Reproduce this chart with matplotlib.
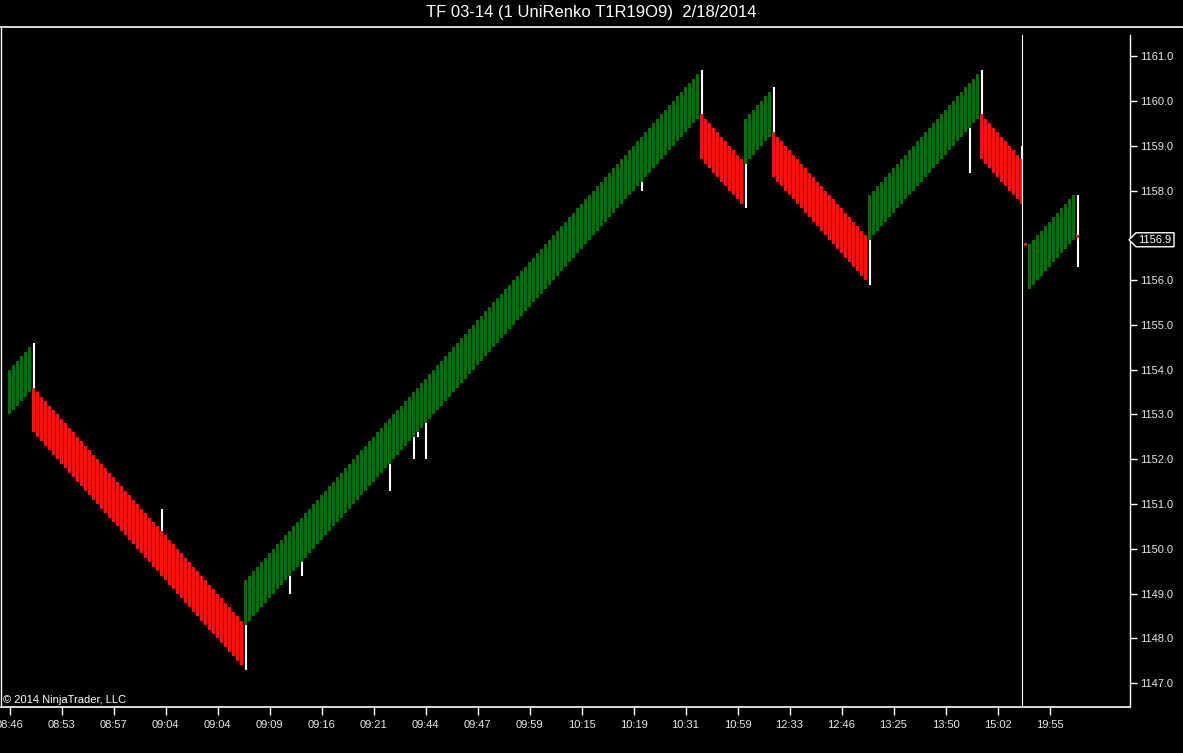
import numpy as np
import matplotlib
matplotlib.use("Agg")
import matplotlib.pyplot as plt
from matplotlib.patches import Polygon
from matplotlib.lines import Line2D
from matplotlib.transforms import IdentityTransform

plt.rcParams['font.family'] = ['Liberation Sans', 'DejaVu Sans']

title = "TF 03-14 (1 UniRenko T1R19O9)  2/18/2014"
copyright_text = "\u00a9 2014 NinjaTrader, LLC"

# renko brick closes per leg
green1_close = [1154.0, 1154.1, 1154.2, 1154.3, 1154.4, 1154.5]
red1_close = [1152.6, 1152.5, 1152.4, 1152.3, 1152.2, 1152.1, 1152.0, 1151.9, 1151.8, 1151.7,
              1151.6, 1151.5, 1151.4, 1151.3, 1151.2, 1151.1, 1151.0, 1150.9, 1150.8, 1150.7,
              1150.6, 1150.5, 1150.4, 1150.3, 1150.2, 1150.1, 1150.0, 1149.9, 1149.8, 1149.7,
              1149.6, 1149.5, 1149.4, 1149.3, 1149.2, 1149.1, 1149.0, 1148.9, 1148.8, 1148.7,
              1148.6, 1148.5, 1148.4, 1148.3, 1148.2, 1148.1, 1148.0, 1147.9, 1147.8, 1147.7,
              1147.6, 1147.5, 1147.4]
green2_close = [1149.3, 1149.4, 1149.5, 1149.6, 1149.7, 1149.8, 1149.9, 1150.0, 1150.1, 1150.2,
                1150.3, 1150.4, 1150.5, 1150.6, 1150.7, 1150.8, 1150.9, 1151.0, 1151.1, 1151.2,
                1151.3, 1151.4, 1151.5, 1151.6, 1151.7, 1151.8, 1151.9, 1152.0, 1152.1, 1152.2,
                1152.3, 1152.4, 1152.5, 1152.6, 1152.7, 1152.8, 1152.9, 1153.0, 1153.1, 1153.2,
                1153.3, 1153.4, 1153.5, 1153.6, 1153.7, 1153.8, 1153.9, 1154.0, 1154.1, 1154.2,
                1154.3, 1154.4, 1154.5, 1154.6, 1154.7, 1154.8, 1154.9, 1155.0, 1155.1, 1155.2,
                1155.3, 1155.4, 1155.5, 1155.6, 1155.7, 1155.8, 1155.9, 1156.0, 1156.1, 1156.2,
                1156.3, 1156.4, 1156.5, 1156.6, 1156.7, 1156.8, 1156.9, 1157.0, 1157.1, 1157.2,
                1157.3, 1157.4, 1157.5, 1157.6, 1157.7, 1157.8, 1157.9, 1158.0, 1158.1, 1158.2,
                1158.3, 1158.4, 1158.5, 1158.6, 1158.7, 1158.8, 1158.9, 1159.0, 1159.1, 1159.2,
                1159.3, 1159.4, 1159.5, 1159.6, 1159.7, 1159.8, 1159.9, 1160.0, 1160.1, 1160.2,
                1160.3, 1160.4, 1160.5, 1160.6]
red2_close = [1158.7, 1158.6, 1158.5, 1158.4, 1158.3, 1158.2, 1158.1, 1158.0, 1157.9, 1157.8, 1157.7]
green3_close = [1159.6, 1159.7, 1159.8, 1159.9, 1160.0, 1160.1, 1160.2]
red3_close = [1158.3, 1158.2, 1158.1, 1158.0, 1157.9, 1157.8, 1157.7, 1157.6, 1157.5, 1157.4,
              1157.3, 1157.2, 1157.1, 1157.0, 1156.9, 1156.8, 1156.7, 1156.6, 1156.5, 1156.4,
              1156.3, 1156.2, 1156.1, 1156.0]
green4_close = [1157.9, 1158.0, 1158.1, 1158.2, 1158.3, 1158.4, 1158.5, 1158.6, 1158.7, 1158.8,
                1158.9, 1159.0, 1159.1, 1159.2, 1159.3, 1159.4, 1159.5, 1159.6, 1159.7, 1159.8,
                1159.9, 1160.0, 1160.1, 1160.2, 1160.3, 1160.4, 1160.5, 1160.6]
red4_close = [1158.7, 1158.6, 1158.5, 1158.4, 1158.3, 1158.2, 1158.1, 1158.0, 1157.9, 1157.8, 1157.7]
green5_close = [1156.8, 1156.9, 1157.0, 1157.1, 1157.2, 1157.3, 1157.4, 1157.5, 1157.6, 1157.7,
                1157.8, 1157.9]

# the two tiny bars (session open bar and the last, still forming bar)
tick1_open, tick1_close = [1156.82], [1156.76]
last_open, last_close = [1157.0], [1156.94]

body_size = 1.0  # open offset + trend, in points

segments = [
    ("up", green1_close, None),
    ("down", red1_close, None),
    ("up", green2_close, None),
    ("down", red2_close, None),
    ("up", green3_close, None),
    ("down", red3_close, None),
    ("up", green4_close, None),
    ("down", red4_close, None),
    ("down", tick1_close, tick1_open),
    ("up", green5_close, None),
    ("down", last_close, last_open),
]

# wicks (bar number, low, high)
wick_bar = [6, 38, 59, 70, 73, 95, 101, 102, 104, 158, 173, 184, 191, 215, 240, 243, 253, 267]
wick_low = [1152.6, 1149.4, 1147.3, 1149.0, 1149.4, 1151.3, 1152.0, 1152.5, 1152.0, 1158.0,
            1158.7, 1157.6, 1158.3, 1155.9, 1158.4, 1158.7, 1157.7, 1156.3]
wick_high = [1154.6, 1150.9, 1149.3, 1150.4, 1150.7, 1152.9, 1153.5, 1153.6, 1153.8, 1159.2,
             1160.7, 1159.6, 1160.3, 1157.9, 1160.4, 1160.7, 1159.0, 1157.9]

time_labels = ["08:46", "08:53", "08:57", "09:04", "09:04", "09:09", "09:16", "09:21", "09:44",
               "09:47", "09:59", "10:15", "10:19", "10:31", "10:59", "12:33", "12:46", "13:25",
               "13:50", "15:02", "19:55"]
bars_per_label = 13
session_break = 253.15
last_price = 1156.9
price_ticks = [1147.0, 1148.0, 1149.0, 1150.0, 1151.0, 1152.0, 1153.0, 1154.0, 1155.0, 1156.0,
               1158.0, 1159.0, 1160.0, 1161.0]

up_color = '#0b6b0b'
down_color = '#f01515'

# build bars
xs, bottoms, heights, colors = [], [], [], []
i = 0
for direction, closes, opens in segments:
    for k, c in enumerate(closes):
        if opens is not None:
            o = opens[k]
        elif direction == "up":
            o = c - body_size
        else:
            o = c + body_size
        xs.append(i)
        bottoms.append(min(o, c))
        heights.append(abs(c - o))
        colors.append(up_color if direction == "up" else down_color)
        i += 1

W, H = 1183, 753
fig = plt.figure(figsize=(W / 100, H / 100), dpi=100, facecolor='black')
ax = fig.add_axes([1 / W, (H - 707) / H, 1129 / W, 680 / H])
ax.set_facecolor('black')

ax.vlines(wick_bar, wick_low, wick_high, colors='white', linewidth=1.5, zorder=2)
ax.bar(xs, heights, bottom=bottoms, width=0.72, color=colors, linewidth=0, zorder=3)

ax.set_xlim(-2.125, 280.125)
ax.set_ylim(1146.47, 1161.65)

# session break
ax.axvline(session_break, ymax=0.988, color='white', linewidth=0.8, zorder=4)

for s in ax.spines.values():
    s.set_visible(False)
ax.plot([1, 1], [0, 0.988], transform=ax.transAxes, color='white', lw=1, clip_on=False)
ax.plot([0, 1], [0, 0], transform=ax.transAxes, color='white', lw=1.2, clip_on=False)
ax.plot([0, 0], [0, 1], transform=ax.transAxes, color='white', lw=1, clip_on=False)
fig.add_artist(Line2D([0, 1], [1 - 27 / H, 1 - 27 / H], transform=fig.transFigure, color='white', lw=1.2))

ax.yaxis.tick_right()
ax.set_yticks(price_ticks)
ax.set_yticklabels([f"{p:.1f}" for p in price_ticks])
ax.set_xticks([k * bars_per_label for k in range(len(time_labels))])
ax.set_xticklabels(time_labels)
ax.tick_params(axis='y', colors='white', length=5, width=1, labelsize=8, pad=2, labelcolor='#e8e8e8')
ax.tick_params(axis='x', colors='white', length=6, width=1, labelsize=8, pad=3, labelcolor='#e8e8e8')

fig.text(0.5, 1 - 13 / H, title, color='white', fontsize=12, ha='center', va='center')
fig.text(3 / W, 1 - 700 / H, copyright_text, color='white', fontsize=8, ha='left', va='center')

# last price marker
y_px = ax.transData.transform((0, last_price))[1]
x_px = ax.transAxes.transform((1, 0))[0]
tag = Polygon([(x_px - 1, y_px), (x_px + 6, y_px + 7), (x_px + 44, y_px + 7),
               (x_px + 44, y_px - 7), (x_px + 6, y_px - 7)], closed=True,
              transform=IdentityTransform(), facecolor='black', edgecolor='white', lw=1, zorder=5)
fig.add_artist(tag)
fig.text(x_px + 8, y_px, f"{last_price:.1f}", transform=IdentityTransform(), color='white',
         fontsize=8, ha='left', va='center', zorder=6)

fig.savefig('out.png', dpi=100, facecolor='black')
